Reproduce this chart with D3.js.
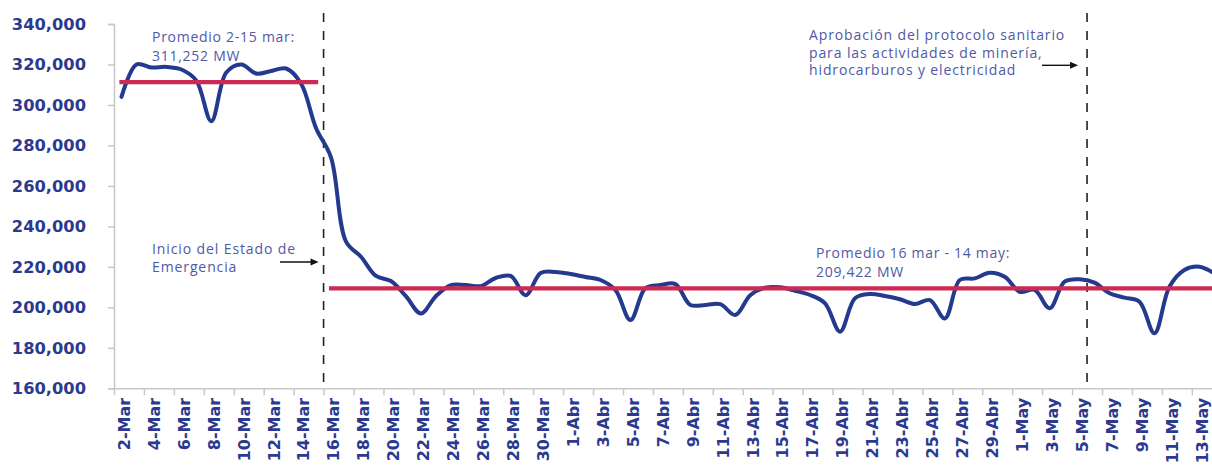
<!DOCTYPE html>
<html>
<head>
<meta charset="utf-8">
<script src="https://cdn.jsdelivr.net/npm/d3@7"></script>
<style>
  html, body { margin: 0; padding: 0; background: #fff; }
  svg { display: block; }
</style>
</head>
<body>
<svg id="chart" width="1212" height="465"></svg>
<script>
// ---------------- DATA ----------------
const categories = [
  "2-Mar","3-Mar","4-Mar","5-Mar","6-Mar","7-Mar","8-Mar","9-Mar","10-Mar","11-Mar",
  "12-Mar","13-Mar","14-Mar","15-Mar","16-Mar","17-Mar","18-Mar","19-Mar","20-Mar","21-Mar",
  "22-Mar","23-Mar","24-Mar","25-Mar","26-Mar","27-Mar","28-Mar","29-Mar","30-Mar","31-Mar",
  "1-Abr","2-Abr","3-Abr","4-Abr","5-Abr","6-Abr","7-Abr","8-Abr","9-Abr","10-Abr",
  "11-Abr","12-Abr","13-Abr","14-Abr","15-Abr","16-Abr","17-Abr","18-Abr","19-Abr","20-Abr",
  "21-Abr","22-Abr","23-Abr","24-Abr","25-Abr","26-Abr","27-Abr","28-Abr","29-Abr","30-Abr",
  "1-May","2-May","3-May","4-May","5-May","6-May","7-May","8-May","9-May","10-May",
  "11-May","12-May","13-May","14-May"
];
const demand = [
  304000, 320000, 318500, 318800, 317500, 312000, 292000, 316000, 320000, 315500,
  316800, 318000, 310500, 288500, 274000, 232500, 225000, 215500, 213000, 205500,
  197000, 205500, 211000, 211000, 210500, 214500, 215500, 206000, 217000, 217500,
  216500, 215000, 213500, 208500, 193700, 209500, 211000, 211500, 201200, 201200,
  201600, 196200, 206000, 209700, 209900, 208200, 206100, 202000, 188000, 204500,
  206600, 205600, 204000, 201600, 203600, 194500, 213500, 214300, 217100, 215100,
  207700, 208600, 199500, 212700, 213900, 212200, 207000, 204800, 202800, 187200,
  210200, 218500, 220100, 216800
];
const yTicks = [160000, 180000, 200000, 220000, 240000, 260000, 280000, 300000, 320000, 340000];
const averagePeriods = ["2-Mar", "15-Mar", "16-Mar", "14-May"];   // start/end pairs
const averageValues = [311252, 209422];
const eventDays = ["16-Mar", "6-May"];
const notes = [
  ["Promedio 2-15 mar:", "311,252 MW"],
  ["Inicio del Estado de", "Emergencia"],
  ["Promedio 16 mar - 14 may:", "209,422 MW"],
  ["Aprobación del protocolo sanitario", "para las actividades de minería,", "hidrocarburos y electricidad"]
];

// ---------------- LAYOUT ----------------
const svg = d3.select("#chart");
const mLeft = 114, mTop = 24, mBottom = 388.3;
const step = 14.97;
const mRight = mLeft + step * categories.length;

const x = d3.scaleBand().domain(categories).range([mLeft, mRight]).paddingInner(0).paddingOuter(0);
const xIdx = d3.scaleLinear().domain([0, categories.length]).range([mLeft, mRight]);
const y = d3.scaleLinear().domain([160000, 340000]).range([mBottom, mTop]);
const cx = d => x(d) + x.bandwidth() / 2;

const navy = "#2b3990";
const lineBlue = "#233a8e";
const noteColor = "#4f59a6";
const red = "#cc2a52";

// Y axis
const yAxis = svg.append("g")
  .attr("transform", `translate(${mLeft},0)`)
  .call(d3.axisLeft(y).tickValues(yTicks).tickFormat(d3.format(",")).tickSize(6).tickPadding(22));
yAxis.select(".domain").attr("stroke", "#c8c8c8").attr("stroke-width", 1.5);
yAxis.selectAll(".tick line").attr("stroke", "#c8c8c8").attr("stroke-width", 1.5);
yAxis.selectAll(".tick text")
  .attr("fill", navy)
  .style("font-family", "'DejaVu Sans', sans-serif")
  .style("font-weight", "bold")
  .style("font-size", "16.3px");

// X axis tick marks (every 2 days at band boundaries)
const xTickAxis = svg.append("g")
  .attr("transform", `translate(0,${mBottom})`)
  .call(d3.axisBottom(xIdx).tickValues(d3.range(0, categories.length + 1, 2)).tickFormat("").tickSize(7).tickSizeOuter(0));
xTickAxis.select(".domain").attr("stroke", "#c8c8c8").attr("stroke-width", 1.5);
xTickAxis.selectAll(".tick line").attr("stroke", "#c8c8c8").attr("stroke-width", 1.5);

// X axis labels
const xLabAxis = svg.append("g")
  .attr("transform", `translate(0,${mBottom})`)
  .call(d3.axisBottom(x).tickValues(categories.filter((d, i) => i % 2 === 0)).tickSize(0).tickPadding(0));
xLabAxis.select(".domain").remove();
xLabAxis.selectAll(".tick text")
  .attr("transform", "translate(0,9.5) rotate(-90)")
  .attr("x", 0).attr("y", 0)
  .attr("dy", "0.52em")
  .attr("text-anchor", "end")
  .attr("fill", navy)
  .style("font-family", "'DejaVu Sans', sans-serif")
  .style("font-weight", "bold")
  .style("font-size", "16px");

// Event dashed lines
svg.append("g").selectAll("line").data(eventDays).join("line")
  .attr("x1", d => x(d)).attr("x2", d => x(d))
  .attr("y1", 13).attr("y2", mBottom)
  .attr("stroke", "#222").attr("stroke-width", 1.6)
  .attr("stroke-dasharray", "9,9");

// Demand line
const line = d3.line()
  .x((d, i) => cx(categories[i]))
  .y(d => y(d))
  .curve(d3.curveCatmullRom.alpha(0.5));
svg.append("path").datum(demand)
  .attr("d", line)
  .attr("fill", "none")
  .attr("stroke", lineBlue)
  .attr("stroke-width", 4)
  .attr("stroke-linejoin", "round")
  .attr("stroke-linecap", "round");

// Average lines
svg.append("g").selectAll("line").data(averageValues).join("line")
  .attr("x1", (d, i) => cx(averagePeriods[2 * i]))
  .attr("x2", (d, i) => cx(averagePeriods[2 * i + 1]))
  .attr("y1", d => y(d)).attr("y2", d => y(d))
  .attr("stroke", red).attr("stroke-width", 4.2)
  .attr("stroke-linecap", "square");

// Annotations (letter-spacing fitted so the first line has the reference width)
function note(lines, x0, y0, lh, targetWidth) {
  const t = svg.append("text")
    .attr("fill", noteColor)
    .style("font-family", "'Open Sans', sans-serif")
    .style("font-size", "14px");
  const spans = lines.map((s, i) => t.append("tspan").attr("x", x0).attr("y", y0 + i * lh).text(s));
  const w = spans[0].node().getComputedTextLength();
  const ls = Math.max(0, (targetWidth - w) / lines[0].length);
  t.style("letter-spacing", ls.toFixed(2) + "px");
}
note(notes[0], 152, 42, 18.5, 143);
note(notes[1], 152, 254, 18.3, 144);
note(notes[2], 816, 258.3, 18.4, 194);
note(notes[3], 809, 40.3, 17.5, 256);

// Arrows
const arrows = [
  { tip: x(eventDays[0]) - 5, from: 280, yy: 262 },
  { tip: x(eventDays[1]) - 9, from: 1042, yy: 65.3 }
];
arrows.forEach(a => {
  svg.append("line").attr("x1", a.from).attr("x2", a.tip - 6).attr("y1", a.yy).attr("y2", a.yy)
    .attr("stroke", "#111").attr("stroke-width", 1.4);
  svg.append("path")
    .attr("d", `M${a.tip},${a.yy} L${a.tip - 8},${a.yy - 3.5} L${a.tip - 8},${a.yy + 3.5} Z`)
    .attr("fill", "#111");
});
</script>
</body>
</html>
